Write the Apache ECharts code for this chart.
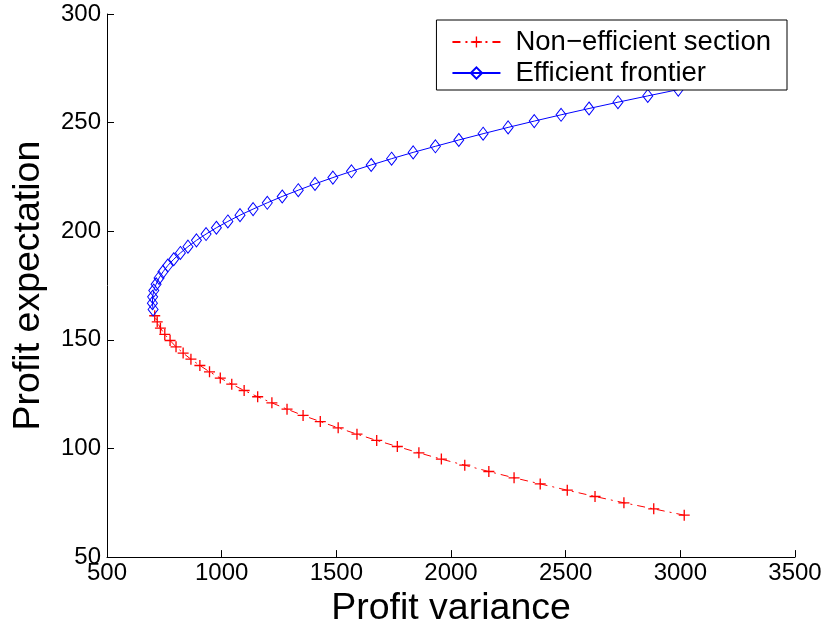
<!DOCTYPE html>
<html>
<head>
<meta charset="utf-8">
<script src="https://cdn.jsdelivr.net/npm/echarts@6/dist/echarts.min.js"></script>
<style>
  html, body { margin: 0; padding: 0; background: #fff; }
  #container { width: 830px; height: 633px; }
</style>
</head>
<body>
<div id="container"></div>
<script>
// values
var seriesNames = ['Non\u2212efficient section', 'Efficient frontier'];

// non-efficient (lower) branch
var redExpect = [69.3, 72.2, 75.0, 77.9, 80.8, 83.7, 86.5, 89.4, 92.3, 95.1, 98.0, 100.9,
    103.7, 106.6, 109.5, 112.4, 115.2, 118.1, 121.0, 123.8, 126.7, 129.6, 132.4, 135.3,
    138.2, 141.1, 143.9, 146.8, 149.7, 152.5, 155.4, 158.3, 161.1];
var redVariance = [3017, 2884, 2754, 2628, 2507, 2389, 2275, 2165, 2060, 1958, 1860, 1766,
    1676, 1590, 1508, 1430, 1355, 1285, 1219, 1157, 1098, 1044, 994, 947,
    905, 866, 832, 801, 775, 752, 733, 719, 708];

// efficient (upper) branch
var blueExpect = [164.0, 166.9, 169.8, 172.7, 175.6, 178.5, 181.3, 184.2, 187.1, 190.0, 192.9, 195.8,
    198.7, 201.6, 204.5, 207.4, 210.2, 213.1, 216.0, 218.9, 221.8, 224.7, 227.6, 230.5,
    233.4, 236.3, 239.1, 242.0, 244.9, 247.8, 250.7, 253.6, 256.5, 259.4, 262.3, 265.2];
var blueVariance = [701, 698, 699, 704, 714, 727, 744, 765, 791, 820, 853, 890,
    932, 977, 1027, 1080, 1137, 1199, 1264, 1334, 1407, 1485, 1566, 1652,
    1741, 1835, 1932, 2034, 2140, 2249, 2363, 2480, 2602, 2728, 2858, 2991];

function toPairs(xs, ys) {
    var out = [];
    for (var i = 0; i < xs.length; i++) {
        out.push([xs[i], ys[i]]);
    }
    return out;
}

var font = 'Liberation Sans, Arial, Helvetica, sans-serif';
var plusPath = 'path://M0,4.4H10V5.6H0Z M4.4,0H5.6V10H4.4Z';

var myChart = echarts.init(document.getElementById('container'), null, { renderer: 'canvas' });

var option = {
    animation: false,
    grid: { left: 107, right: 35, top: 14, bottom: 75 },
    legend: {
        orient: 'vertical',
        right: 43,
        top: 20,
        padding: [8, 16, 3, 15],
        borderColor: '#000',
        borderWidth: 1,
        backgroundColor: '#fff',
        itemWidth: 48,
        itemHeight: 14,
        itemGap: 3,
        textStyle: { fontFamily: font, fontSize: 27.5, color: '#000', padding: [0, 0, 0, 10] },
        data: seriesNames
    },
    xAxis: {
        type: 'value',
        min: 500,
        max: 3500,
        interval: 500,
        name: 'Profit variance',
        nameLocation: 'middle',
        nameGap: 29,
        nameTextStyle: { fontFamily: font, fontSize: 37.5, color: '#000' },
        axisLine: { show: true, lineStyle: { color: '#000', width: 1 } },
        axisTick: { show: true, inside: true, length: 7, lineStyle: { color: '#000' } },
        axisLabel: {
            fontFamily: font, fontSize: 24, color: '#000', margin: 4,
            formatter: function (v) { return String(v); }
        },
        splitLine: { show: false }
    },
    yAxis: {
        type: 'value',
        min: 50,
        max: 300,
        interval: 50,
        name: 'Profit expectation',
        nameLocation: 'middle',
        nameGap: 59,
        nameTextStyle: { fontFamily: font, fontSize: 37.5, color: '#000' },
        axisLine: { show: true, lineStyle: { color: '#000', width: 1 } },
        axisTick: { show: true, inside: true, length: 7, lineStyle: { color: '#000' } },
        axisLabel: {
            fontFamily: font, fontSize: 24, color: '#000', margin: 6,
            formatter: function (v) { return String(v); }
        },
        splitLine: { show: false }
    },
    series: [
        {
            name: seriesNames[0],
            type: 'line',
            data: toPairs(redVariance, redExpect),
            symbol: plusPath,
            symbolSize: 11,
            showAllSymbol: true,
            lineStyle: { color: '#ff0000', width: 1, type: [8, 5, 2, 5] },
            itemStyle: { color: '#ff0000' }
        },
        {
            name: seriesNames[1],
            type: 'line',
            data: toPairs(blueVariance, blueExpect),
            symbol: 'diamond',
            symbolSize: [10, 13],
            showAllSymbol: true,
            lineStyle: { color: '#0000ff', width: 1 },
            itemStyle: { color: 'rgba(0,0,0,0)', borderColor: '#0000ff', borderWidth: 1 }
        }
    ]
};

myChart.setOption(option);
window.addEventListener('resize', myChart.resize);
</script>
</body>
</html>
